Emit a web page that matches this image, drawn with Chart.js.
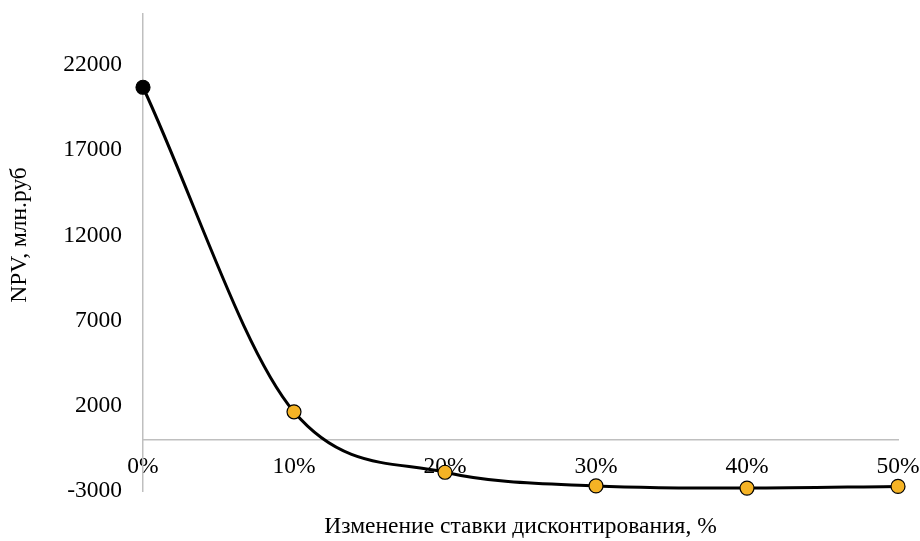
<!DOCTYPE html>
<html lang="ru">
<head>
    <meta charset="UTF-8">
    <title>NPV</title>
    <script src="https://cdn.jsdelivr.net/npm/chart.js@4.4.1/dist/chart.umd.min.js"></script>
    <style>
        body { margin: 0; background: #fff; }
    </style>
</head>
<body>
    <canvas id="myChart" width="920" height="541"></canvas>

    <!-- data -->
    <script>
        const rates = [0, 10, 20, 30, 40, 50];
        const npv = [20700, 1650, -1900, -2700, -2830, -2730];
        const yTicks = [-3000, 2000, 7000, 12000, 17000, 22000];
        const pointColors = ['#000000', '#F5B325', '#F5B325', '#F5B325', '#F5B325', '#F5B325'];
        const yTitle = 'NPV, млн.руб';
        const xTitle = 'Изменение ставки дисконтирования, %';
    </script>

    <script>
        const font = 'Liberation Serif, Times New Roman, serif';
        const fontSize = 23.5;
        Chart.defaults.font.family = font;
        Chart.defaults.color = '#000';

        const axisGray = '#bfbfbf';

        // no extra room for overflowing tick labels
        const noPad = s => { s.paddingTop = 0; s.paddingBottom = 0; s.paddingLeft = 0; s.paddingRight = 0; };

        // y title drawn by hand so it sits where Excel puts it
        const yTitlePlugin = {
            id: 'yTitle',
            afterDraw(chart) {
                const c = chart.ctx;
                c.save();
                c.translate(20, 235);
                c.rotate(-Math.PI / 2);
                c.font = fontSize + 'px ' + font;
                c.fillStyle = '#000';
                c.textAlign = 'center';
                c.textBaseline = 'middle';
                c.fillText(yTitle, 0, 0);
                c.restore();
            }
        };

        const ctx = document.getElementById('myChart').getContext('2d');
        const myChart = new Chart(ctx, {
            type: 'line',
            data: {
                datasets: [{
                    data: rates.map((r, i) => ({ x: r, y: npv[i] })),
                    borderColor: '#000',
                    borderWidth: 3,
                    cubicInterpolationMode: 'monotone',
                    pointRadius: 7,
                    pointBorderWidth: 1.2,
                    pointBorderColor: '#000',
                    pointBackgroundColor: pointColors,
                    clip: false
                }]
            },
            options: {
                responsive: false,
                animation: false,
                layout: { padding: { top: 14, right: 22, left: 0, bottom: 0 } },
                plugins: {
                    legend: { display: false },
                    tooltip: { enabled: false }
                },
                scales: {
                    // bottom axis only carries the title
                    x: {
                        type: 'linear',
                        min: 0,
                        max: 50,
                        position: 'bottom',
                        grid: { display: false, drawTicks: false },
                        border: { display: false },
                        ticks: { display: false },
                        title: {
                            display: true,
                            text: xTitle,
                            font: { size: fontSize },
                            padding: { top: 9, bottom: 0 }
                        },
                        afterFit: s => { s.height = 50; noPad(s); }
                    },
                    // axis line crossing at zero with the % labels
                    x0: {
                        type: 'linear',
                        min: 0,
                        max: 50,
                        position: { y: 0 },
                        grid: { display: false, drawTicks: false },
                        border: { color: axisGray, width: 1.5 },
                        ticks: {
                            font: { size: fontSize },
                            padding: 13,
                            callback: v => v + '%'
                        },
                        afterBuildTicks: s => { s.ticks = rates.map(v => ({ value: v })); },
                        afterFit: noPad
                    },
                    y: {
                        min: -3000,
                        max: 25000,
                        grid: { display: false, drawTicks: false },
                        border: { color: axisGray, width: 1.5 },
                        ticks: {
                            font: { size: fontSize },
                            padding: 21,
                            callback: v => v
                        },
                        afterBuildTicks: s => { s.ticks = yTicks.map(v => ({ value: v })); },
                        afterFit: s => { s.width = 143; noPad(s); }
                    }
                }
            },
            plugins: [yTitlePlugin]
        });
    </script>
</body>
</html>
